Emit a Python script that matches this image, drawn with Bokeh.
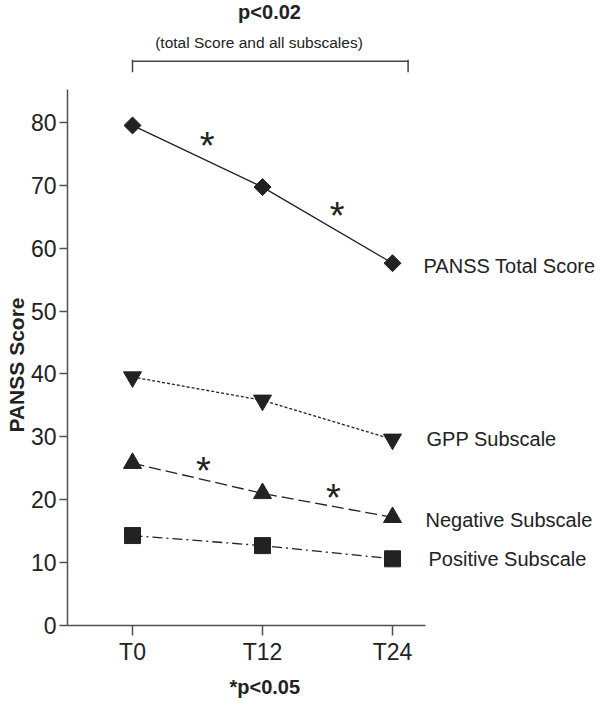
from math import pi
from bokeh.plotting import figure
from bokeh.models import Label, Arrow, FixedTicker, Title
from bokeh.embed import file_html
from bokeh.resources import INLINE

# ---- data ----
TIMES = ["T0", "T12", "T24"]
TOTAL = [79.5, 69.7, 57.6]
GPP = [39.5, 35.8, 29.6]
NEGATIVE = [25.8, 21.0, 17.2]
POSITIVE = [14.3, 12.7, 10.6]
SERIES_NAMES = ["PANSS Total Score", "GPP Subscale", "Negative Subscale", "Positive Subscale"]
Y_TICKS = [0, 10, 20, 30, 40, 50, 60, 70, 80]
# intervals (index pairs) marked with * (p<0.05)
TOTAL_SIG = [(0, 1), (1, 2)]
NEGATIVE_SIG = [(0, 1), (1, 2)]

FONT = "Liberation Sans"
INK = "#222222"
AXIS = "#505050"

x = list(range(len(TIMES)))

W, H = 600, 713
LEFT, BOTTOM_PX = 67, 625          # frame left edge / x-axis position (px)
PX_X, PX_Y = 130.0, 6.29           # px per data unit
X0 = -0.5
Y_AXIS_TOP = 85.2
X_AXIS_END = 2.254

p = figure(width=W, height=H, title=None,
           x_range=(X0, X0 + (W - LEFT) / PX_X), y_range=(0, BOTTOM_PX / PX_Y),
           min_border_left=LEFT, min_border_right=0, min_border_top=0,
           min_border_bottom=H - BOTTOM_PX,
           output_backend="svg", toolbar_location=None)
p.outline_line_color = None
p.grid.visible = False

for ax in (p.xaxis[0], p.yaxis[0]):
    ax.axis_line_color = AXIS
    ax.axis_line_width = 1.5
    ax.major_tick_line_color = AXIS
    ax.major_tick_line_width = 1.5
    ax.minor_tick_line_color = None
    ax.major_tick_in = 0
    ax.major_label_text_font = FONT
    ax.major_label_text_font_size = "23px"
    ax.major_label_text_color = INK

p.yaxis.ticker = FixedTicker(ticks=Y_TICKS)
p.yaxis.major_tick_out = 8
p.yaxis.major_label_standoff = 3
p.yaxis.bounds = (0, Y_AXIS_TOP)
p.xaxis.ticker = FixedTicker(ticks=x)
p.xaxis.major_tick_out = 10
p.xaxis.major_label_standoff = 3
p.xaxis.bounds = (X0, X_AXIS_END)
p.xaxis.major_label_overrides = {i: t for i, t in enumerate(TIMES)}

# ---- series ----
p.line(x, TOTAL, line_color=INK, line_width=1.3)
p.scatter(x, TOTAL, marker="square", size=12, angle=pi / 4, fill_color=INK, line_color=INK)

p.line(x, GPP, line_color=INK, line_width=1.3, line_dash="3 2")
p.scatter(x, GPP, marker="inverted_triangle", size=18, fill_color=INK, line_color=INK)

p.line(x, NEGATIVE, line_color=INK, line_width=1.3, line_dash="12 5")
p.scatter(x, NEGATIVE, marker="triangle", size=18, fill_color=INK, line_color=INK)

p.line(x, POSITIVE, line_color=INK, line_width=1.3, line_dash="10 4 2 4")
p.scatter(x, POSITIVE, marker="square", size=16, fill_color=INK, line_color=INK)

# ---- series labels at the right ----
for name, vals, xoff, yoff in zip(SERIES_NAMES, [TOTAL, GPP, NEGATIVE, POSITIVE],
                                  [31, 34, 33, 36], [-3, 0, -3, 0]):
    p.add_layout(Label(x=x[-1], y=vals[-1], x_offset=xoff, y_offset=yoff, text=name,
                       text_font=FONT, text_font_size="20px", text_color=INK,
                       text_align="left", text_baseline="middle"))

# ---- asterisks ----
def add_stars(vals, sig, dx, gap):
    for (a, b) in sig:
        xm = (x[a] + x[b]) / 2 + dx
        t = (xm - x[a]) / (x[b] - x[a])
        ym = vals[a] + t * (vals[b] - vals[a])
        p.add_layout(Label(x=xm, y=ym + gap, text="*", text_font=FONT,
                           text_font_size="38px", text_color=INK,
                           text_align="center", text_baseline="middle"))

add_stars(TOTAL, TOTAL_SIG, 0.075, 2.35)
add_stars(NEGATIVE, NEGATIVE_SIG, 0.045, 1.4)

# ---- top bracket and texts ----
by, bt, bb = 89.7, 89.95, 87.95
p.add_layout(Arrow(end=None, x_start=x[0], y_start=by, x_end=2.12, y_end=by,
                   line_color="#444444", line_width=1.5))
for bx in (x[0], 2.12):
    p.add_layout(Arrow(end=None, x_start=bx, y_start=bt, x_end=bx, y_end=bb,
                       line_color="#444444", line_width=1.5))

p.add_layout(Label(x=1.054, y=97.5, text="p<0.02", text_font=FONT, text_font_size="20px",
                   text_font_style="bold", text_color=INK, text_align="center",
                   text_baseline="middle"))
p.add_layout(Label(x=0.973, y=92.7, text="(total Score and all subscales)", text_font=FONT,
                   text_font_size="15.5px", text_color=INK, text_align="center",
                   text_baseline="middle"))

# ---- texts outside the frame, as side titles ----
p.add_layout(Title(text="PANSS Score", align="left", offset=193, standoff=0,
                   text_font=FONT, text_font_size="21px", text_font_style="bold",
                   text_color=INK), "left")
p.add_layout(Title(text="*p<0.05", align="left", offset=162, standoff=12,
                   vertical_align="bottom", text_font=FONT, text_font_size="20px",
                   text_font_style="bold", text_color=INK), "below")

open("out.html", "w").write(file_html(p, INLINE))
